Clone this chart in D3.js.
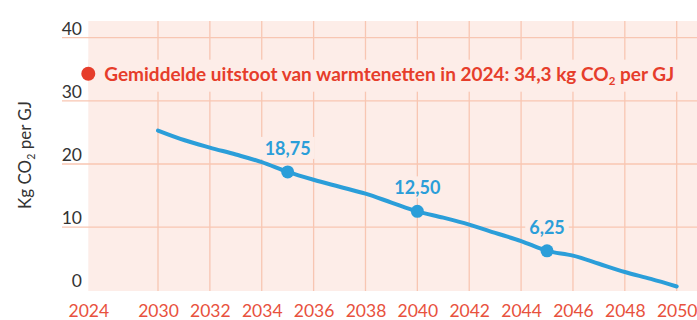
<!DOCTYPE html>
<html>
<head>
<meta charset="utf-8">
<script src="https://cdn.jsdelivr.net/npm/d3@7"></script>
<style>
  html, body { margin: 0; padding: 0; background: #ffffff; }
  svg { display: block; }
  text { font-family: Lato, "Open Sans", sans-serif; }
</style>
</head>
<body>
<svg id="chart" width="697" height="320"></svg>
<script>
// Emission path for district heating, kg CO2 per GJ
const years = [2030, 2031, 2032, 2033, 2034, 2035, 2036, 2037, 2038, 2039, 2040,
               2041, 2042, 2043, 2044, 2045, 2046, 2047, 2048, 2049, 2050];
const emissions = [25.3, 23.8, 22.6, 21.5, 20.3, 18.75, 17.5, 16.4, 15.3, 13.9, 12.5,
                   11.5, 10.4, 9.1, 7.8, 6.25, 5.5, 4.2, 2.9, 1.8, 0.6];

// Labelled milestones
const markerYears = [2035, 2040, 2045];
const markerValues = [18.75, 12.5, 6.25];
const markerLabels = ["18,75", "12,50", "6,25"];

// Current average (2024)
const currentYear = 2024;
const currentValue = 34.3;

// Axis ticks
const xTicks = [2024, 2030, 2032, 2034, 2036, 2038, 2040, 2042, 2044, 2046, 2048, 2050];
const xGridYears = [2030, 2032, 2034, 2036, 2038, 2040, 2042, 2044, 2046, 2048, 2050];
const yTicks = [0, 10, 20, 30, 40];

const plot = { left: 88.3, right: 697, top: 21, bottom: 291 };

const colors = {
  bg: "#fdede8",
  grid: "#f8c6b2",
  red: "#e63d2b",
  redTick: "#e8513d",
  blue: "#2b9ed9",
  text: "#333333"
};

// 2024 sits at the plot's left edge, the yearly axis runs 2030–2050
const x = d3.scaleLinear()
  .domain([2024, 2030, 2050])
  .range([plot.left, 158, 676.7]);

const y = d3.scaleLinear()
  .domain([0, 40])
  .range([290.3, 37.7]);

const svg = d3.select("#chart");

// Plot background
svg.append("rect")
  .attr("x", plot.left).attr("y", plot.top)
  .attr("width", plot.right - plot.left).attr("height", plot.bottom - plot.top)
  .attr("fill", colors.bg);

// Vertical grid lines
svg.append("g").selectAll("line")
  .data(xGridYears).join("line")
  .attr("x1", d => x(d)).attr("x2", d => x(d))
  .attr("y1", plot.top).attr("y2", plot.bottom)
  .attr("stroke", colors.grid).attr("stroke-width", 1.3);

// Horizontal grid lines, extending under the tick labels
svg.append("g").selectAll("line")
  .data(yTicks.filter(d => d > 0)).join("line")
  .attr("x1", 62).attr("x2", plot.right)
  .attr("y1", d => y(d)).attr("y2", d => y(d))
  .attr("stroke", colors.grid).attr("stroke-width", 1.3);

// Y tick labels above their grid line
svg.append("g").selectAll("text")
  .data(yTicks).join("text")
  .attr("x", 82).attr("y", d => y(d) - 3)
  .attr("text-anchor", "end")
  .attr("font-size", 17.5).attr("font-weight", 400)
  .attr("fill", colors.text)
  .text(d => d);

// X tick labels
const xAxis = d3.axisBottom(x).tickValues(xTicks).tickSize(0).tickFormat(d3.format("d"));
const gx = svg.append("g").attr("transform", `translate(0,${plot.bottom})`).call(xAxis);
gx.select(".domain").remove();
gx.selectAll("text")
  .attr("dy", null).attr("y", 26)
  .attr("font-family", "Lato, 'Open Sans', sans-serif")
  .attr("font-size", 17.5).attr("font-weight", 400)
  .attr("fill", colors.redTick);

// Y axis title
const yTitle = svg.append("text")
  .attr("transform", `translate(31,155) rotate(-90)`)
  .attr("text-anchor", "middle")
  .attr("font-size", 17).attr("font-weight", 400)
  .attr("fill", colors.text);
yTitle.append("tspan").text("Kg CO");
yTitle.append("tspan").attr("font-size", 10.5).attr("dy", 4).text("2");
yTitle.append("tspan").attr("dy", -4).text(" per GJ");

// Band behind the current-average annotation
svg.append("rect")
  .attr("x", plot.left).attr("y", y(currentValue) - 14)
  .attr("width", plot.right - plot.left).attr("height", 32)
  .attr("fill", colors.bg);

svg.append("circle")
  .attr("cx", x(currentYear)).attr("cy", y(currentValue))
  .attr("r", 7).attr("fill", colors.red);

const note = svg.append("text")
  .attr("x", x(currentYear) + 16).attr("y", y(currentValue) + 7)
  .attr("font-size", 19).attr("font-weight", 700)
  .attr("fill", colors.red);
note.append("tspan").text("Gemiddelde uitstoot van warmtenetten in 2024: 34,3 kg CO");
note.append("tspan").attr("font-size", 11.5).attr("dy", 4).text("2");
note.append("tspan").attr("dy", -4).text(" per GJ");

// Emission line
const line = d3.line()
  .x((d, i) => x(years[i]))
  .y(d => y(d))
  .curve(d3.curveMonotoneX);

svg.append("path")
  .datum(emissions)
  .attr("d", line)
  .attr("fill", "none")
  .attr("stroke", colors.blue)
  .attr("stroke-width", 4)
  .attr("stroke-linecap", "round")
  .attr("stroke-linejoin", "round");

// Milestone markers and value labels
const markers = markerYears.map((yr, i) => ({ yr, v: markerValues[i], label: markerLabels[i] }));

svg.append("g").selectAll("circle")
  .data(markers).join("circle")
  .attr("cx", d => x(d.yr)).attr("cy", d => y(d.v))
  .attr("r", 6.5).attr("fill", colors.blue);

const lbl = svg.append("g").selectAll("g")
  .data(markers).join("g");

lbl.append("text")
  .attr("x", d => x(d.yr)).attr("y", d => y(d.v) - 17)
  .attr("text-anchor", "middle")
  .attr("font-size", 18).attr("font-weight", 700)
  .attr("fill", colors.blue)
  .text(d => d.label);

// Background boxes behind the value labels, sized from the text
lbl.each(function() {
  const g = d3.select(this);
  const b = g.select("text").node().getBBox();
  g.insert("rect", "text")
    .attr("x", b.x - 4).attr("y", b.y)
    .attr("width", b.width + 8).attr("height", b.height)
    .attr("fill", colors.bg);
});
</script>
</body>
</html>
